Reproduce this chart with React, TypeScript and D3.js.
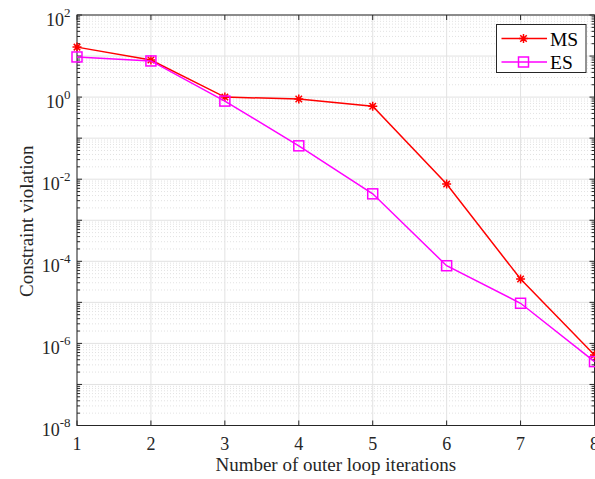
import { useEffect, useRef } from 'react';
import * as d3 from 'd3';

// iterations + constraint violation per method
const ITERS = [1, 2, 3, 4, 5, 6, 7, 8];
const MS_VALUES = [16.5, 8.0, 1.0, 0.9, 0.6, 0.0076, 3.7e-5, 5.2e-7];
const ES_VALUES = [9.5, 7.6, 0.8, 0.065, 0.0044, 7.8e-5, 9.5e-6, 3.6e-7];
const Y_EXPONENTS = [2, 0, -2, -4, -6, -8];

const SERIES = [
  { name: 'MS', values: MS_VALUES, color: '#ff0000', marker: 'star' },
  { name: 'ES', values: ES_VALUES, color: '#ff00ff', marker: 'square' },
];

const W = 595, H = 479;
const M = { left: 77, right: 0.5, top: 15, bottom: 53.5 };
const FONT = '"Liberation Serif", "Times New Roman", serif';

export default function App() {
  const svgRef = useRef<SVGSVGElement>(null);

  useEffect(() => {
    const svg = d3.select(svgRef.current);
    svg.selectAll('*').remove();

    const x = d3.scaleLinear().domain([1, 8]).range([M.left, W - M.right]);
    const y = d3.scaleLog().domain([1e-8, 1e2]).range([H - M.bottom, M.top]);
    const [x0, x1] = x.range();
    const [yb, yt] = y.range();

    // minor gridlines (dotted) — 2..9 per decade
    const minor: number[] = [];
    for (let e = -8; e < 2; e++) for (let k = 2; k <= 9; k++) minor.push(k * 10 ** e);
    const majorY = d3.range(-8, 3).map(e => 10 ** e);

    const grid = svg.append('g');
    grid.selectAll('line.ymin').data(minor).join('line')
      .attr('x1', x0).attr('x2', x1)
      .attr('y1', d => y(d)).attr('y2', d => y(d))
      .attr('stroke', '#cfcfcf').attr('stroke-width', 0.6).attr('stroke-dasharray', '1,2');
    grid.selectAll('line.ymaj').data(majorY).join('line')
      .attr('x1', x0).attr('x2', x1)
      .attr('y1', d => y(d)).attr('y2', d => y(d))
      .attr('stroke', '#e2e2e2').attr('stroke-width', 1);
    grid.selectAll('line.xmaj').data(ITERS).join('line')
      .attr('x1', d => x(d)).attr('x2', d => x(d))
      .attr('y1', yb).attr('y2', yt)
      .attr('stroke', '#e2e2e2').attr('stroke-width', 1);

    // ticks (inward) on all four sides
    const ax = svg.append('g').attr('stroke', '#262626').attr('stroke-width', 1);
    ITERS.forEach(v => {
      ax.append('line').attr('x1', x(v)).attr('x2', x(v)).attr('y1', yb).attr('y2', yb - 5);
      ax.append('line').attr('x1', x(v)).attr('x2', x(v)).attr('y1', yt).attr('y2', yt + 5);
    });
    majorY.forEach(v => {
      ax.append('line').attr('x1', x0).attr('x2', x0 + 5).attr('y1', y(v)).attr('y2', y(v));
      ax.append('line').attr('x1', x1).attr('x2', x1 - 5).attr('y1', y(v)).attr('y2', y(v));
    });
    minor.forEach(v => {
      ax.append('line').attr('x1', x0).attr('x2', x0 + 3).attr('y1', y(v)).attr('y2', y(v));
      ax.append('line').attr('x1', x1).attr('x2', x1 - 3).attr('y1', y(v)).attr('y2', y(v));
    });
    ax.append('rect').attr('x', x0).attr('y', yt).attr('width', x1 - x0).attr('height', yb - yt)
      .attr('fill', 'none');

    // tick labels
    svg.append('g').selectAll('text').data(ITERS).join('text')
      .attr('x', d => x(d)).attr('y', yb + 24.5)
      .attr('text-anchor', 'middle').attr('font-family', FONT).attr('font-size', 18)
      .attr('fill', '#262626').text(d => d);

    const yl = svg.append('g').selectAll('text').data(Y_EXPONENTS).join('text')
      .attr('x', 70.5).attr('y', d => y(10 ** d) + 10.5)
      .attr('text-anchor', 'end').attr('font-family', FONT).attr('font-size', 18)
      .attr('fill', '#262626');
    yl.append('tspan').text('10');
    yl.append('tspan').attr('dy', -9).attr('font-size', 13).text(d => d);

    // axis titles
    svg.append('text').attr('x', (x0 + x1) / 2).attr('y', 471)
      .attr('text-anchor', 'middle').attr('font-family', FONT).attr('font-size', 19)
      .attr('fill', '#262626').text('Number of outer loop iterations');
    svg.append('text').attr('transform', `translate(33,${(yb + yt) / 2 + 1}) rotate(-90)`)
      .attr('text-anchor', 'middle').attr('font-family', FONT).attr('font-size', 19)
      .attr('fill', '#262626').text('Constraint violation');

    // series
    const line = d3.line<number>().x((_, i) => x(ITERS[i])).y(d => y(d));
    const drawMarker = (g: any, cx: number, cy: number, s: typeof SERIES[number]) => {
      if (s.marker === 'star') {
        const r = 4.5, q = r * 0.72;
        g.append('path')
          .attr('d', `M${cx - r},${cy}L${cx + r},${cy}M${cx},${cy - r}L${cx},${cy + r}` +
            `M${cx - q},${cy - q}L${cx + q},${cy + q}M${cx - q},${cy + q}L${cx + q},${cy - q}`)
          .attr('stroke', s.color).attr('stroke-width', 1.5).attr('fill', 'none');
      } else {
        g.append('rect').attr('x', cx - 5).attr('y', cy - 5).attr('width', 10).attr('height', 10)
          .attr('stroke', s.color).attr('stroke-width', 1.5).attr('fill', 'none');
      }
    };

    const plot = svg.append('g');
    SERIES.forEach(s => {
      plot.append('path').datum(s.values).attr('d', line)
        .attr('fill', 'none').attr('stroke', s.color).attr('stroke-width', 1.5);
      s.values.forEach((v, i) => drawMarker(plot, x(ITERS[i]), y(v), s));
    });

    // legend
    const lg = svg.append('g');
    lg.append('rect').attr('x', 496.5).attr('y', 24.5).attr('width', 89.5).attr('height', 48)
      .attr('fill', 'white').attr('stroke', '#262626').attr('stroke-width', 1);
    SERIES.forEach((s, i) => {
      const ly = 38.5 + i * 23.5;
      lg.append('line').attr('x1', 501.5).attr('x2', 547).attr('y1', ly).attr('y2', ly)
        .attr('stroke', s.color).attr('stroke-width', 1.5);
      drawMarker(lg, 523.5, ly, s);
      lg.append('text').attr('x', 550).attr('y', ly + 7)
        .attr('font-family', FONT).attr('font-size', 19.5).attr('fill', '#000').text(s.name);
    });
  }, []);

  return (
    <div style={{ position: 'fixed', left: 0, top: 0, width: W, height: H, background: '#fff' }}>
      <svg ref={svgRef} width={W} height={H} style={{ display: 'block' }} />
    </div>
  );
}
